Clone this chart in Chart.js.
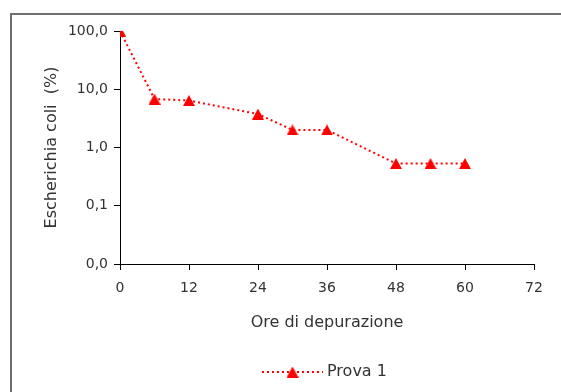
<!DOCTYPE html>
<html>
<head>
<meta charset="utf-8">
<script src="https://cdn.jsdelivr.net/npm/chart.js@4/dist/chart.umd.min.js"></script>
<style>
  html, body { margin: 0; padding: 0; background: #fff; overflow: hidden; }
  #wrap { width: 561px; height: 392px; position: relative; }
  canvas { display: block; }
</style>
</head>
<body>
<div id="wrap"><canvas id="c" width="561" height="392"></canvas></div>
<script>
// Data
const hours = [0, 6, 12, 24, 30, 36, 48, 54, 60];
const prova1 = [100, 6.8, 6.4, 3.75, 2.0, 2.0, 0.53, 0.53, 0.53];
const xTicks = [0, 12, 24, 36, 48, 60, 72];
const yTicks = [0.01, 0.1, 1, 10, 100];
const seriesLabel = 'Prova 1';
const xTitle = 'Ore di depurazione';
const yTitle = 'Escherichia coli  (%)';

const RED = '#FF0000';
const TEXT = '#333333';
const FONT = 'DejaVu Sans';

// triangle marker image (bbox centred)
function makeTriangle() {
  const w = 12, h = 11;
  const c = document.createElement('canvas');
  c.width = w; c.height = h;
  const g = c.getContext('2d');
  g.fillStyle = RED;
  g.beginPath();
  g.moveTo(w / 2, 0);
  g.lineTo(w, h);
  g.lineTo(0, h);
  g.closePath();
  g.fill();
  return c;
}
const tri = makeTriangle();

const frame = {
  id: 'frame',
  beforeDraw(chart) {
    const ctx = chart.ctx;
    ctx.save();
    ctx.strokeStyle = '#6e6e6e';
    ctx.lineWidth = 2;
    ctx.beginPath();
    ctx.moveTo(11, 400);
    ctx.lineTo(11, 14);
    ctx.lineTo(580, 14);
    ctx.stroke();
    ctx.restore();
  }
};

const legendPlugin = {
  id: 'customLegend',
  afterDraw(chart) {
    const ctx = chart.ctx;
    const ds = chart.data.datasets[0];
    const y = 372, x0 = 262, x1 = 323;
    ctx.save();
    ctx.strokeStyle = RED;
    ctx.lineWidth = 2;
    ctx.setLineDash([2, 3]);
    ctx.beginPath();
    ctx.moveTo(x0, y);
    ctx.lineTo(x1, y);
    ctx.stroke();
    ctx.setLineDash([]);
    ctx.drawImage(tri, (x0 + x1) / 2 - tri.width / 2, y - tri.height / 2);
    ctx.fillStyle = TEXT;
    ctx.font = '16px "' + FONT + '"';
    ctx.textBaseline = 'middle';
    ctx.textAlign = 'left';
    ctx.fillText(ds.label, 327, y);
    ctx.restore();
  }
};

function fmt(v) {
  return v.toFixed(1).replace('.', ',');
}

new Chart(document.getElementById('c'), {
  type: 'line',
  data: {
    datasets: [{
      label: seriesLabel,
      data: hours.map((h, i) => ({ x: h, y: prova1[i] })),
      borderColor: RED,
      backgroundColor: RED,
      borderWidth: 2,
      borderDash: [2, 3],
      pointStyle: tri,
      pointRadius: 6,
      tension: 0,
      fill: false
    }]
  },
  options: {
    responsive: false,
    animation: false,
    events: [],
    layout: { padding: { left: 40, right: 27, top: 31, bottom: 58 } },
    plugins: {
      legend: { display: false },
      tooltip: { enabled: false }
    },
    scales: {
      x: {
        type: 'linear',
        min: 0,
        max: 72,
        afterBuildTicks(axis) { axis.ticks = xTicks.map(v => ({ value: v })); },
        afterFit(axis) { axis.height = 70; },
        border: { display: true, color: '#000', width: 1 },
        grid: { drawOnChartArea: false, drawTicks: true, tickLength: 6, color: '#000' },
        ticks: { color: TEXT, font: { family: FONT, size: 14 }, padding: 10, maxRotation: 0 },
        title: { display: true, text: xTitle, color: TEXT, font: { family: FONT, size: 16 }, padding: { top: 0, bottom: 1.5 } }
      },
      y: {
        type: 'logarithmic',
        min: 0.01,
        max: 100,
        afterBuildTicks(axis) { axis.ticks = yTicks.map(v => ({ value: v })); },
        afterFit(axis) { axis.width = 80; },
        border: { display: true, color: '#000', width: 1 },
        grid: { drawOnChartArea: false, drawTicks: true, tickLength: 6, color: '#000' },
        ticks: { color: TEXT, font: { family: FONT, size: 14 }, padding: 6, callback: (v) => fmt(v) },
        title: { display: true, text: yTitle, color: TEXT, font: { family: FONT, size: 16 }, padding: { top: 2.5, bottom: 0 } }
      }
    }
  },
  plugins: [frame, legendPlugin]
});
</script>
</body>
</html>
